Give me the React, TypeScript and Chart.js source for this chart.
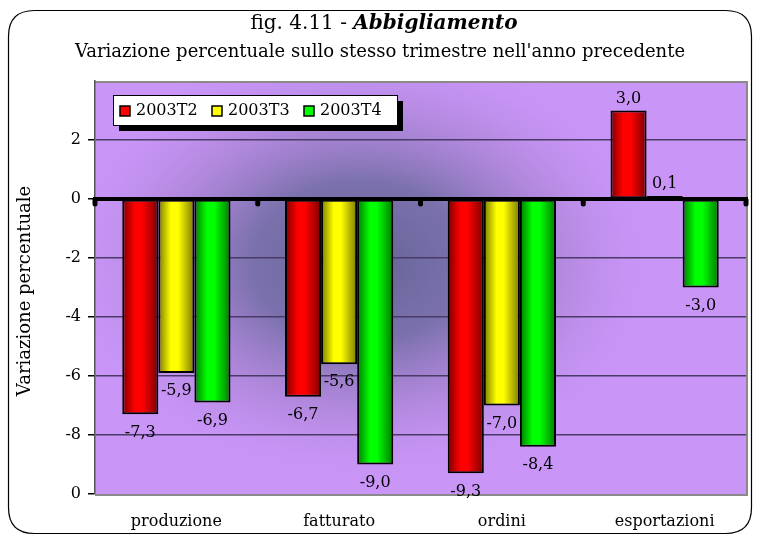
import React, { useEffect, useRef } from "react";
import { Chart, registerables } from "chart.js";

Chart.register(...registerables);

const categories = ["produzione", "fatturato", "ordini", "esportazioni"];
const seriesNames = ["2003T2", "2003T3", "2003T4"];
const valuesT2 = [-7.3, -6.7, -9.3, 3.0];
const valuesT3 = [-5.9, -5.6, -7.0, 0.1];
const valuesT4 = [-6.9, -9.0, -8.4, -3.0];
const yTicks = [4, 2, 0, -2, -4, -6, -8, -10];

const FONT = "'DejaVu Serif', serif";
const baseColors = ["#ff0000", "#ffff00", "#00ff00"];
const darkColors = ["#7a0000", "#7a7a00", "#007a00"];

const fmt = (v: number) => v.toFixed(1).replace(".", ",");

const decorPlugin = {
  id: "decor",
  beforeDraw(chart: any) {
    const { ctx, chartArea: a, width, height } = chart;
    ctx.save();
    ctx.fillStyle = "#ffffff";
    ctx.fillRect(0, 0, width, height);
    // outer rounded frame
    const x0 = 8.5, y0 = 10.5, x1 = 751.5, y1 = 533.5, r = 26;
    ctx.beginPath();
    ctx.moveTo(x0 + r, y0);
    ctx.lineTo(x1 - r, y0);
    ctx.quadraticCurveTo(x1, y0, x1, y0 + r);
    ctx.lineTo(x1, y1 - r);
    ctx.quadraticCurveTo(x1, y1, x1 - r, y1);
    ctx.lineTo(x0 + r, y1);
    ctx.quadraticCurveTo(x0, y1, x0, y1 - r);
    ctx.lineTo(x0, y0 + r);
    ctx.quadraticCurveTo(x0, y0, x0 + r, y0);
    ctx.strokeStyle = "#000";
    ctx.lineWidth = 1.2;
    ctx.stroke();

    // title
    const t1 = "fig. 4.11 - ";
    const t2 = "Abbigliamento";
    ctx.fillStyle = "#000";
    ctx.textBaseline = "middle";
    ctx.font = `20px ${FONT}`;
    const w1 = ctx.measureText(t1).width;
    ctx.font = `italic bold 20px ${FONT}`;
    const w2 = ctx.measureText(t2).width;
    const cx = 384;
    const sx = cx - (w1 + w2) / 2;
    ctx.textAlign = "left";
    ctx.font = `20px ${FONT}`;
    ctx.fillText(t1, sx, 24);
    ctx.font = `italic bold 20px ${FONT}`;
    ctx.fillText(t2, sx + w1, 24);
    ctx.font = `18px ${FONT}`;
    ctx.textAlign = "center";
    ctx.fillText("Variazione percentuale sullo stesso trimestre nell'anno precedente", 380, 52);

    // y axis title
    ctx.save();
    ctx.translate(25, 291);
    ctx.rotate(-Math.PI / 2);
    ctx.font = `18px ${FONT}`;
    ctx.fillText("Variazione percentuale", 0, 0);
    ctx.restore();

    // plot background
    ctx.fillStyle = "#c996f8";
    ctx.fillRect(a.left, a.top, a.right - a.left, a.bottom - a.top);
    ctx.save();
    ctx.beginPath();
    ctx.rect(a.left, a.top, a.right - a.left, a.bottom - a.top);
    ctx.clip();
    const gcx = 360, gcy = 262;
    ctx.translate(gcx, gcy);
    ctx.scale(1.35, 1);
    const g = ctx.createRadialGradient(0, 0, 0, 0, 0, 230);
    g.addColorStop(0, "rgba(100,100,150,1)");
    g.addColorStop(0.35, "rgba(112,108,162,0.88)");
    g.addColorStop(0.7, "rgba(170,130,210,0.5)");
    g.addColorStop(1, "rgba(201,150,248,0)");
    ctx.fillStyle = g;
    ctx.fillRect(-400, -300, 800, 600);
    ctx.restore();

    // plot frame (gray)
    ctx.strokeStyle = "#8a8a8a";
    ctx.lineWidth = 2;
    ctx.beginPath();
    ctx.moveTo(a.left, a.top + 1);
    ctx.lineTo(a.right + 1, a.top + 1);
    ctx.lineTo(a.right + 1, a.bottom + 1);
    ctx.lineTo(a.left, a.bottom + 1);
    ctx.stroke();
    ctx.restore();
  },
  beforeDatasetsDraw(chart: any) {
    const { ctx } = chart;
    chart.data.datasets.forEach((ds: any, di: number) => {
      const meta = chart.getDatasetMeta(di);
      meta.data.forEach((el: any) => {
        const left = el.x - el.width / 2;
        const right = el.x + el.width / 2;
        const g = ctx.createLinearGradient(left, 0, right, 0);
        g.addColorStop(0, darkColors[di]);
        g.addColorStop(0.35, baseColors[di]);
        g.addColorStop(0.55, baseColors[di]);
        g.addColorStop(1, darkColors[di]);
        el.options = { ...el.options, backgroundColor: g };
      });
    });
  },
  afterDatasetsDraw(chart: any) {
    const { ctx, chartArea: a, scales } = chart;
    const y0 = scales.y.getPixelForValue(0);
    ctx.save();
    // zero line
    ctx.strokeStyle = "#000";
    ctx.lineWidth = 4;
    ctx.beginPath();
    ctx.moveTo(a.left - 2, y0);
    ctx.lineTo(a.right + 2, y0);
    ctx.stroke();
    const n = categories.length;
    ctx.fillStyle = "#000";
    for (let i = 0; i <= n; i++) {
      const x = a.left + ((a.right - a.left) * i) / n;
      ctx.beginPath();
      ctx.moveTo(x - 2.5, y0);
      ctx.lineTo(x - 2.5, y0 + 5);
      ctx.arc(x, y0 + 5, 2.5, Math.PI, 0, true);
      ctx.lineTo(x + 2.5, y0);
      ctx.fill();
    }

    // data labels
    ctx.font = `16px ${FONT}`;
    ctx.textAlign = "center";
    ctx.textBaseline = "middle";
    ctx.fillStyle = "#000";
    chart.data.datasets.forEach((ds: any, di: number) => {
      const meta = chart.getDatasetMeta(di);
      meta.data.forEach((el: any, i: number) => {
        const v = ds.data[i];
        const yy = v >= 0 ? el.y - 12 : el.y + 18;
        ctx.fillText(fmt(v), el.x, yy);
      });
    });

    // legend
    const lx = 113, ly = 95, lw = 284, lh = 30;
    ctx.fillStyle = "#000";
    ctx.fillRect(lx + 6, ly + 6, lw, lh);
    ctx.fillStyle = "#fff";
    ctx.fillRect(lx, ly, lw, lh);
    ctx.strokeStyle = "#000";
    ctx.lineWidth = 1;
    ctx.strokeRect(lx + 0.5, ly + 0.5, lw, lh);
    ctx.font = `16px ${FONT}`;
    ctx.textAlign = "left";
    ctx.textBaseline = "middle";
    seriesNames.forEach((name, i) => {
      const mx = 120 + i * 92;
      const my = ly + lh / 2 + 1;
      ctx.fillStyle = baseColors[i];
      ctx.fillRect(mx, my - 5, 10, 10);
      ctx.strokeStyle = "#000";
      ctx.lineWidth = 1.5;
      ctx.strokeRect(mx, my - 5, 10, 10);
      ctx.fillStyle = "#000";
      ctx.fillText(name, mx + 16, my);
    });
    ctx.restore();
  },
};

export default function App() {
  const ref = useRef<HTMLCanvasElement | null>(null);
  useEffect(() => {
    document.body.style.margin = "0";
    const canvas = ref.current;
    if (!canvas) return;
    const seriesValues = [valuesT2, valuesT3, valuesT4];
    const chart = new Chart(canvas, {
      type: "bar",
      data: {
        labels: categories,
        datasets: seriesNames.map((name, i) => ({
          label: name,
          data: seriesValues[i],
          backgroundColor: baseColors[i],
          borderColor: "#000",
          borderWidth: 2,
          borderSkipped: false,
          barPercentage: 1,
          categoryPercentage: 0.665,
        })),
      },
      options: {
        responsive: false,
        animation: false,
        events: [],
        layout: { padding: { top: 81, right: 11, left: 0, bottom: 0 } },
        plugins: {
          legend: { display: false },
          title: { display: false },
          tooltip: { enabled: false },
        },
        scales: {
          x: {
            grid: { display: false, drawTicks: false },
            border: { display: false },
            ticks: {
              font: { family: FONT, size: 16 },
              color: "#000",
              padding: 18,
            },
            afterFit: (s: any) => {
              s.height = 41;
            },
          },
          y: {
            min: -10,
            max: 4,
            afterBuildTicks: (s: any) => {
              s.ticks = yTicks.map((v) => ({ value: v }));
            },
            ticks: {
              font: { family: FONT, size: 16 },
              color: "#000",
              padding: 7,
              callback: (v: any) => (v === 4 ? "" : v === -10 ? "0" : String(v)),
            },
            grid: {
              color: (c: any) =>
                c.tick && (c.tick.value === 4 || c.tick.value === -10 || c.tick.value === 0)
                  ? "rgba(0,0,0,0)"
                  : "#4a3a68",
              tickColor: (c: any) => (c.tick && c.tick.value === 4 ? "rgba(0,0,0,0)" : "#000"),
              tickLength: 7,
              lineWidth: 1.5,
            },
            border: { display: true, color: "#555", width: 1.5 },
            afterFit: (s: any) => {
              s.width = 95;
            },
          },
        },
      },
      plugins: [decorPlugin],
    });
    return () => chart.destroy();
  }, []);
  return (
    <div style={{ width: 757, height: 535 }}>
      <canvas ref={ref} width={757} height={535} style={{ display: "block" }} />
    </div>
  );
}
